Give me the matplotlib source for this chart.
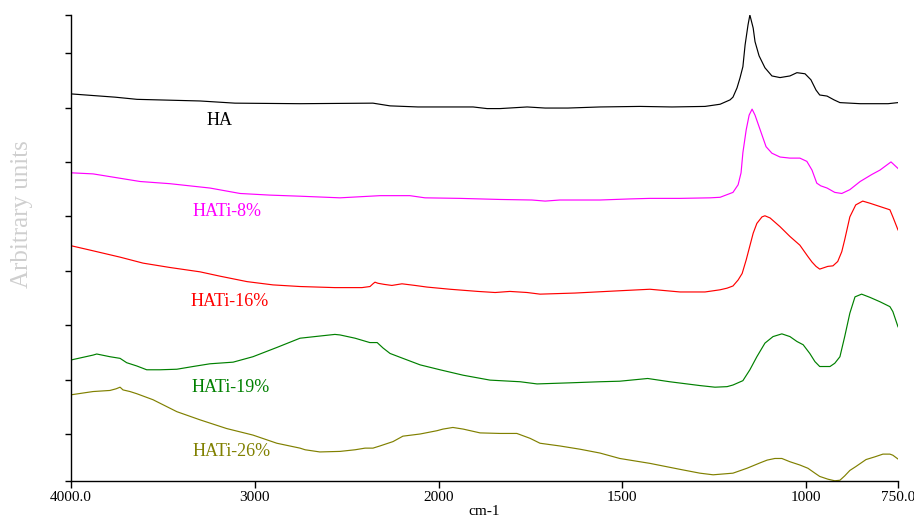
import numpy as np
import matplotlib
matplotlib.use("Agg")
import matplotlib.pyplot as plt

plt.rcParams['font.family'] = ['Liberation Serif', 'DejaVu Serif']

# ---------------- data (wavenumber cm-1, arbitrary intensity) ----------------
ha_x = [4000, 3760, 3641, 3298, 3108, 2754, 2357, 2264, 2112, 1906, 1868, 1833, 1759, 1710,
        1648, 1561, 1452, 1365, 1275, 1234, 1207, 1199, 1188, 1180, 1172, 1166, 1158, 1153,
        1144, 1139, 1128, 1112, 1093, 1071, 1044, 1025, 1003, 987, 973, 963, 943, 924, 908,
        853, 777, 750]
ha_y = [6.25, 6.19, 6.15, 6.12, 6.08, 6.07, 6.08, 6.03, 6.01, 6.01, 5.98, 5.98, 6.01, 5.99,
        5.99, 6.01, 6.02, 6.01, 6.02, 6.06, 6.14, 6.19, 6.36, 6.54, 6.75, 7.15, 7.52, 7.70,
        7.46, 7.21, 6.95, 6.73, 6.58, 6.55, 6.58, 6.64, 6.62, 6.51, 6.32, 6.23, 6.21, 6.14, 6.09,
        6.07, 6.07, 6.09]

t8_x = [4000, 3880, 3624, 3462, 3244, 3080, 2918, 2754, 2536, 2318, 2156, 2074, 1942, 1833,
        1746, 1710, 1670, 1561, 1479, 1425, 1343, 1261, 1234, 1199, 1185, 1177, 1172, 1163,
        1155, 1147, 1139, 1125, 1109, 1093, 1071, 1044, 1017, 998, 984, 971, 960, 943, 922,
        903, 881, 853, 821, 799, 769, 750]
t8_y = [4.80, 4.78, 4.64, 4.60, 4.52, 4.42, 4.39, 4.37, 4.34, 4.38, 4.38, 4.34, 4.33, 4.31,
        4.30, 4.28, 4.30, 4.30, 4.32, 4.33, 4.33, 4.34, 4.35, 4.44, 4.58, 4.80, 5.17, 5.59,
        5.86, 5.97, 5.86, 5.59, 5.28, 5.16, 5.09, 5.07, 5.07, 5.01, 4.85, 4.61, 4.56, 4.52, 4.44,
        4.42, 4.49, 4.64, 4.77, 4.85, 5.00, 4.88]

t16_x = [4000, 3897, 3733, 3608, 3462, 3298, 3189, 3042, 2901, 2754, 2564, 2417, 2373, 2357,
         2346, 2330, 2297, 2254, 2199, 2128, 2063, 1969, 1893, 1846, 1806, 1759, 1724, 1629,
         1514, 1425, 1343, 1275, 1234, 1215, 1199, 1185, 1174, 1163, 1144, 1134, 1120, 1112,
         1098, 1071, 1044, 1017, 995, 984, 973, 963, 941, 927, 914, 903, 895, 881, 865, 846,
         826, 799, 772, 764, 750]
t16_y = [3.46, 3.38, 3.25, 3.14, 3.06, 2.98, 2.90, 2.80, 2.74, 2.71, 2.69, 2.69, 2.71, 2.76,
         2.79, 2.77, 2.75, 2.73, 2.76, 2.73, 2.70, 2.66, 2.62, 2.60, 2.62, 2.60, 2.57, 2.59,
         2.63, 2.66, 2.61, 2.61, 2.65, 2.68, 2.72, 2.83, 2.95, 3.20, 3.69, 3.87, 3.99, 4.01,
         3.97, 3.81, 3.63, 3.47, 3.26, 3.16, 3.08, 3.03, 3.08, 3.09, 3.17, 3.35, 3.57, 3.99, 4.21, 4.28,
         4.24, 4.18, 4.12, 3.99, 3.75]

t19_x = [4000, 3880, 3860, 3788, 3733, 3697, 3642, 3588, 3516, 3424, 3336, 3244, 3118, 3010,
         2880, 2754, 2646, 2564, 2536, 2454, 2374, 2334, 2302, 2264, 2194, 2100, 1996, 1933,
         1860, 1778, 1732, 1643, 1561, 1507, 1431, 1371, 1289, 1248, 1215, 1199, 1172, 1153,
         1134, 1112, 1090, 1066, 1044, 1025, 1008, 990, 976, 963, 935, 922, 908, 895, 881, 867,
         849, 826, 799, 772, 764, 750]
t19_y = [1.36, 1.45, 1.47, 1.42, 1.39, 1.31, 1.25, 1.18, 1.18, 1.19, 1.24, 1.29, 1.32, 1.42,
         1.59, 1.76, 1.80, 1.83, 1.82, 1.76, 1.68, 1.68, 1.58, 1.48, 1.39, 1.27, 1.18, 1.08,
         0.99, 0.96, 0.92, 0.94, 0.96, 0.97, 1.02, 0.96, 0.89, 0.86, 0.87, 0.90, 0.98, 1.18,
         1.42, 1.67, 1.79, 1.84, 1.79, 1.70, 1.64, 1.48, 1.33, 1.24, 1.24, 1.30, 1.42, 1.79, 2.22, 2.52,
         2.57, 2.51, 2.43, 2.34, 2.25, 1.97]

t26_x = [4000, 3880, 3788, 3755, 3733, 3717, 3679, 3642, 3554, 3424, 3298, 3153, 3010, 2880,
         2754, 2726, 2646, 2536, 2454, 2400, 2357, 2319, 2248, 2194, 2100, 2009, 1988, 1961,
         1933, 1887, 1833, 1787, 1751, 1724, 1670, 1615, 1561, 1507, 1425, 1343, 1289, 1253,
         1199, 1161, 1125, 1106, 1085, 1066, 1044, 1017, 995, 976, 963, 941, 922, 908, 895,
         881, 865, 837, 813, 791, 772, 764, 750]
t26_y = [0.72, 0.78, 0.80, 0.83, 0.86, 0.81, 0.78, 0.74, 0.63, 0.41, 0.26, 0.10, -0.02, -0.17,
         -0.26, -0.29, -0.33, -0.32, -0.29, -0.26, -0.26, -0.22, -0.14, -0.04, 0.00, 0.06, 0.09, 0.12,
         0.09, 0.02, 0.01, 0.01, -0.08, -0.17, -0.22, -0.28, -0.35, -0.45, -0.54, -0.65, -0.72, -0.75,
         -0.72, -0.63, -0.53, -0.48, -0.45, -0.45, -0.51, -0.57, -0.63, -0.72, -0.78, -0.83, -0.86, -0.85, -0.77,
         -0.67, -0.60, -0.47, -0.42, -0.37, -0.37, -0.39, -0.46]

series = [
    ("HA", ha_x, ha_y, "#000000", 3190, 5.77),
    ("HATi-8%", t8_x, t8_y, "#ff00ff", 3152, 4.08),
    ("HATi-16%", t16_x, t16_y, "#ff0000", 3135, 2.43),
    ("HATi-19%", t19_x, t19_y, "#008000", 3130, 0.85),
    ("HATi-26%", t26_x, t26_y, "#808000", 3124, -0.33),
]

xticks = [4000, 3000, 2000, 1500, 1000, 750]
xticklabels = ["4000.0", "3000", "2000", "1500", "1000", "750.0"]

# ---------------- piecewise x-scale (compressed above 2000 cm-1) ----------------
def fwd(x):
    x = np.asarray(x, dtype=float)
    return np.where(x > 2000, 2000 + (x - 2000) / 2.0, x)

def inv(u):
    u = np.asarray(u, dtype=float)
    return np.where(u > 2000, 2000 + 2.0 * (u - 2000), u)

fig = plt.figure(figsize=(9.14, 5.21), dpi=100)
ax = fig.add_axes([71 / 914, 1 - 481 / 521, (898 - 71) / 914, (481 - 15) / 521])
ax.set_xscale('function', functions=(fwd, inv))

for name, xs, ys, col, lx, ly in series:
    ax.plot(xs, ys, color=col, lw=0.85, solid_joinstyle='round')
    ax.text(lx, ly, name, color=col, fontsize=13, ha='center', va='center')

ymin, ymax = -0.864, 7.70
ax.set_xlim(4000, 750)
ax.set_ylim(ymin, ymax)

ax.set_xticks(xticks)
ax.set_xticklabels(xticklabels, fontsize=11)
ax.xaxis.set_minor_locator(matplotlib.ticker.NullLocator())
ax.set_yticks([ymin] + list(range(0, 8)) + [ymax])
ax.set_yticklabels([])
ax.tick_params(axis='x', direction='out', length=5, width=1, pad=2)
ax.tick_params(axis='y', direction='out', length=4, width=1)

for s in ['top', 'right']:
    ax.spines[s].set_visible(False)
for s in ['left', 'bottom']:
    ax.spines[s].set_linewidth(1.0)

ax.set_xlabel("cm-1", fontsize=11, labelpad=1)
fig.text(22 / 914, 1 - 214 / 521, "Arbitrary units", rotation=90, color='#cfcfcf',
         fontsize=18, ha='center', va='center')

fig.savefig("out.png", dpi=100)
